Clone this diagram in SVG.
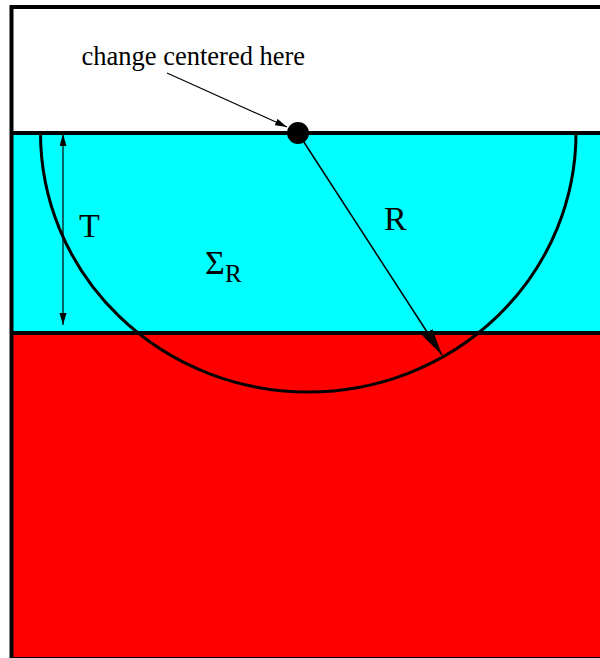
<svg xmlns="http://www.w3.org/2000/svg" width="600" height="658" viewBox="0 0 600 658">
  <style>
    .lbl { font-family: "Liberation Serif", "Times New Roman", serif; fill: #000; }
    .thin { stroke: #000; stroke-width: 1.2; fill: none; }
    .bound { stroke: #000; stroke-width: 4; fill: none; }
  </style>
  <defs>
    <marker id="arrS" markerUnits="userSpaceOnUse" markerWidth="13" markerHeight="8" refX="12" refY="3.5" orient="auto-start-reverse">
      <path d="M0,0 L12,3.5 L0,7 z" fill="#000"/>
    </marker>
    <marker id="arrL" markerUnits="userSpaceOnUse" markerWidth="28" markerHeight="13" refX="27" refY="6" orient="auto">
      <path d="M0,0 L27,6 L0,12 z" fill="#000"/>
    </marker>
  </defs>

  <g id="layers">
    <rect x="11.5" y="7" width="600" height="126" fill="#ffffff"/>
    <rect x="11.5" y="133" width="600" height="200" fill="#00ffff"/>
    <rect x="11.5" y="333" width="600" height="330" fill="#ff0000"/>
    <rect class="bound" x="11.5" y="7" width="600" height="652"/>
    <line class="bound" x1="11.5" y1="133" x2="612" y2="133"/>
    <line class="bound" x1="11.5" y1="333" x2="612" y2="333"/>
  </g>

  <g id="sigma-region">
    <path d="M40.5,133 A267.75 259 0 0 0 576,133" fill="none" stroke="#000" stroke-width="3"/>
  </g>

  <g id="connectors">
    <line class="thin" x1="167" y1="73" x2="287" y2="127" marker-end="url(#arrS)"/>
    <line class="thin" x1="63" y1="134" x2="63" y2="325" marker-start="url(#arrS)" marker-end="url(#arrS)"/>
    <line x1="298" y1="133" x2="442" y2="355" stroke="#000" stroke-width="1.5" marker-end="url(#arrL)"/>
  </g>

  <g id="center-dot">
    <circle cx="298" cy="133" r="11" fill="#000"/>
  </g>

  <g id="labels">
    <text class="lbl" x="81.5" y="65" font-size="26.5">change centered here</text>
    <text class="lbl" x="79" y="237" font-size="34">T</text>
    <text class="lbl" x="384" y="230" font-size="34">R</text>
    <text class="lbl" x="205" y="274" font-size="34">Σ<tspan x="225" y="282" font-size="25">R</tspan></text>
  </g>
</svg>
